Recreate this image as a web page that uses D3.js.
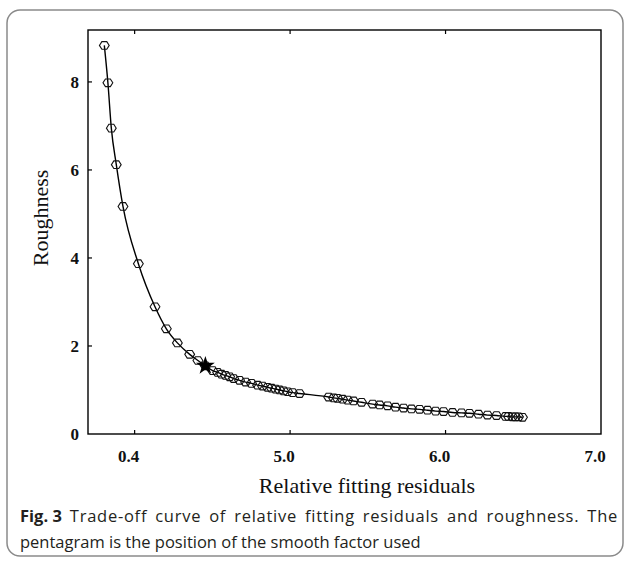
<!DOCTYPE html>
<html lang="en">
<head>
<meta charset="UTF-8">
<title>Trade-off curve</title>
<style>
  body { margin: 0; background: #fff; }
  .tick-label { font: bold 17px "Liberation Serif", serif; fill: #111; }
  .axis-title { font: 22px "Liberation Serif", serif; fill: #111; }
  .caption { font: 16.5px "Open Sans", sans-serif; fill: #231f20; }
  .curve { fill: none; stroke: #000; stroke-width: 1.4px; }
  .marker { fill: none; stroke: #111; stroke-width: 1.1px; }
</style>
<script src="https://d3js.org/d3.v7.min.js"></script>
</head>
<body>
<script>
// values
const residuals = [3.805, 3.828, 3.850, 3.882, 3.925, 4.024, 4.131, 4.204, 4.275, 4.354, 4.407, 4.455,
  4.502, 4.534, 4.559, 4.585, 4.611, 4.637, 4.675, 4.714, 4.752, 4.791, 4.823, 4.855, 4.881, 4.907,
  4.932, 4.958, 4.984, 5.016, 5.061, 5.248, 5.280, 5.305, 5.338, 5.370, 5.408, 5.460, 5.531, 5.576,
  5.627, 5.678, 5.730, 5.781, 5.833, 5.884, 5.936, 5.987, 6.045, 6.103, 6.154, 6.212, 6.270, 6.328,
  6.386, 6.405, 6.431, 6.450, 6.469, 6.495];
const roughness = [8.83, 7.98, 6.95, 6.12, 5.17, 3.87, 2.89, 2.39, 2.07, 1.81, 1.67, 1.55,
  1.44, 1.40, 1.36, 1.33, 1.30, 1.26, 1.22, 1.18, 1.15, 1.11, 1.09, 1.06, 1.04, 1.02,
  1.00, 0.98, 0.96, 0.94, 0.92, 0.84, 0.82, 0.81, 0.79, 0.77, 0.75, 0.72, 0.68, 0.66,
  0.64, 0.61, 0.59, 0.57, 0.56, 0.54, 0.52, 0.51, 0.49, 0.48, 0.47, 0.45, 0.43, 0.42,
  0.40, 0.40, 0.39, 0.39, 0.39, 0.38];
const chosenResidual = 4.455;
const chosenRoughness = 1.55;
const xTicks = [4, 5, 6, 7];
const xTickLabels = ["0.4", "5.0", "6.0", "7.0"];
const yTicks = [0, 2, 4, 6, 8];

const width = 626, height = 563;
const svg = d3.select("body").append("svg")
    .attr("width", width)
    .attr("height", height);

// rounded figure frame
svg.append("rect")
    .attr("x", 7).attr("y", 10)
    .attr("width", 616).attr("height", 546)
    .attr("rx", 13)
    .attr("fill", "none")
    .attr("stroke", "#8a8a8a")
    .attr("stroke-width", 1.5);

const x = d3.scaleLinear().domain([3.7, 7.0]).range([88, 601]);
const y = d3.scaleLinear().domain([0, 9.18]).range([434, 30]);

// plot box
svg.append("rect")
    .attr("x", x.range()[0]).attr("y", y.range()[1])
    .attr("width", x.range()[1] - x.range()[0])
    .attr("height", y.range()[0] - y.range()[1])
    .attr("fill", "none")
    .attr("stroke", "#000")
    .attr("stroke-width", 1.4);

// ticks (inward), top and bottom share x ticks
const tickLen = 4;
svg.append("g").selectAll("line").data(xTicks.slice(0, 3)).join("line")
    .attr("x1", d => x(d)).attr("x2", d => x(d))
    .attr("y1", y.range()[0]).attr("y2", y.range()[0] - tickLen)
    .attr("stroke", "#000").attr("stroke-width", 1.2);
svg.append("g").selectAll("line").data(xTicks.slice(0, 3)).join("line")
    .attr("x1", d => x(d)).attr("x2", d => x(d))
    .attr("y1", y.range()[1]).attr("y2", y.range()[1] + tickLen)
    .attr("stroke", "#000").attr("stroke-width", 1.2);
svg.append("g").selectAll("line").data(yTicks.slice(1)).join("line")
    .attr("x1", x.range()[0]).attr("x2", x.range()[0] + tickLen)
    .attr("y1", d => y(d)).attr("y2", d => y(d))
    .attr("stroke", "#000").attr("stroke-width", 1.2);

svg.append("g").selectAll("text").data(xTicks).join("text")
    .attr("class", "tick-label")
    .attr("x", d => x(d) - 6)
    .attr("y", 462)
    .attr("text-anchor", "middle")
    .text((d, i) => xTickLabels[i]);

svg.append("g").selectAll("text").data(yTicks).join("text")
    .attr("class", "tick-label")
    .attr("x", 79)
    .attr("y", d => y(d))
    .attr("dy", "0.35em")
    .attr("text-anchor", "end")
    .text(d => d);

svg.append("text")
    .attr("class", "axis-title")
    .attr("x", 367).attr("y", 493)
    .attr("text-anchor", "middle")
    .text("Relative fitting residuals");

svg.append("text")
    .attr("class", "axis-title")
    .attr("transform", "translate(48,218) rotate(-90)")
    .attr("text-anchor", "middle")
    .text("Roughness");

// curve and markers
const pts = residuals.map((r, i) => [r, roughness[i]]);

svg.append("path")
    .datum(pts)
    .attr("class", "curve")
    .attr("d", d3.line().x(d => x(d[0])).y(d => y(d[1])).curve(d3.curveMonotoneX));

function hexagon(r) {
  const p = d3.path();
  for (let k = 0; k < 6; k++) {
    const a = k * Math.PI / 3;
    const px = r * Math.cos(a), py = r * Math.sin(a) * 0.9;
    if (k === 0) p.moveTo(px, py); else p.lineTo(px, py);
  }
  p.closePath();
  return p.toString();
}

svg.append("g").selectAll("path").data(pts).join("path")
    .attr("class", "marker")
    .attr("transform", d => `translate(${x(d[0])},${y(d[1])})`)
    .attr("d", hexagon(4.9));

svg.append("path")
    .attr("transform", `translate(${x(chosenResidual)},${y(chosenRoughness)})`)
    .attr("d", d3.symbol().type(d3.symbolStar).size(110)())
    .attr("fill", "#000");

// caption, first line justified to the frame width
const line1 = "Trade-off curve of relative fitting residuals and roughness. The";
const cap = svg.append("text").attr("class", "caption").attr("x", 20).attr("y", 522);
cap.append("tspan").attr("font-weight", "bold").text("Fig. 3");
const body = cap.append("tspan").attr("dx", 8).text(line1);
const target = 590;
const natural = cap.node().getComputedTextLength();
if (natural < target) {
  const extra = target - natural;
  const wordGap = Math.min(3, extra / 8);
  const rest = extra - wordGap * 8;
  body.attr("word-spacing", wordGap)
      .attr("letter-spacing", rest / line1.length);
}
svg.append("text").attr("class", "caption")
    .attr("x", 20).attr("y", 548)
    .text("pentagram is the position of the smooth factor used");
</script>
</body>
</html>
